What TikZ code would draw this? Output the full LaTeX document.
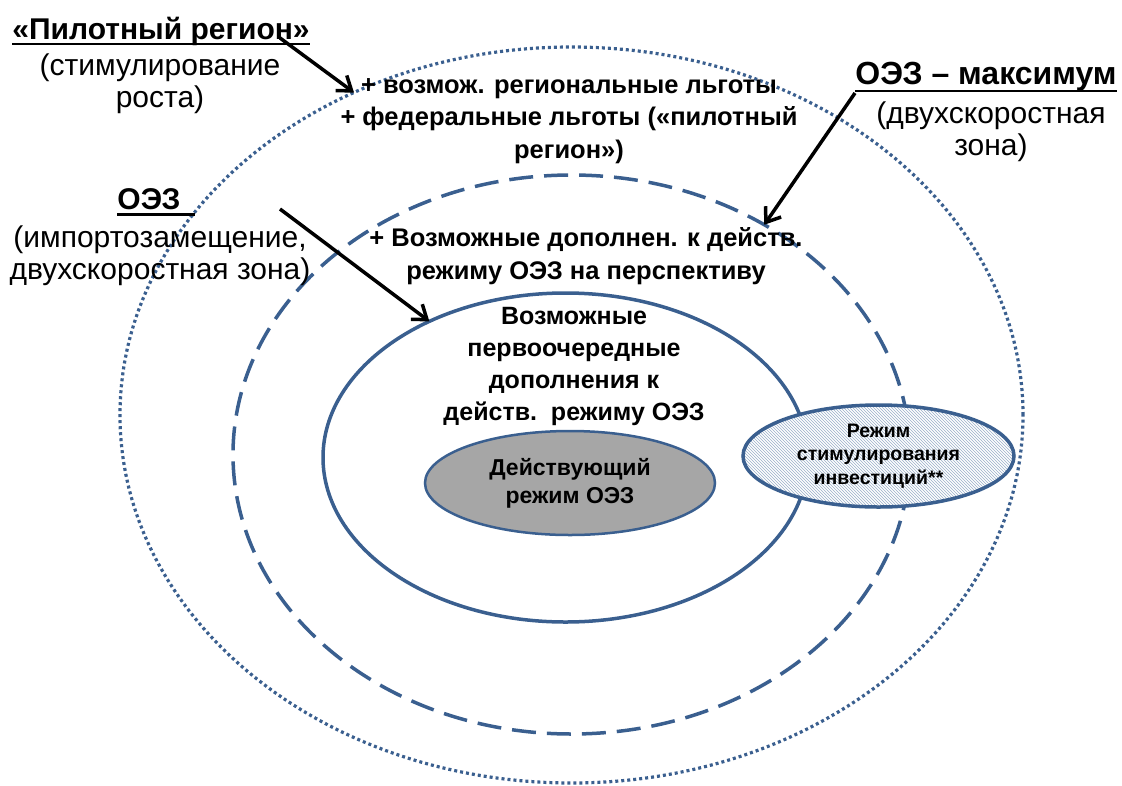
\documentclass[tikz,border=0pt]{standalone}
\usepackage{fontspec}
\setmainfont{Liberation Sans}
\usetikzlibrary{shapes.geometric, arrows.meta, patterns}
\definecolor{ZoneBlue}{HTML}{3A5F8F}
\definecolor{HatchBlue}{HTML}{9AAFCA}
\definecolor{CoreGray}{HTML}{A6A6A6}

\begin{document}
\begin{tikzpicture}[
    x=1pt, y=-1pt,
    >={Straight Barb[length=13pt, width=19pt]},
    zone/.style={
        ellipse,
        draw=ZoneBlue,
        inner sep=0pt,
        outer sep=0pt
    },
    title/.style={
        font=\fontsize{30}{32}\selectfont\bfseries,
        inner sep=0pt
    },
    underbar/.style={
        draw=black,
        line width=2.5pt
    },
    note/.style={
        font=\fontsize{30}{32}\selectfont,
        align=center,
        inner sep=0pt
    },
    zonetext/.style={
        font=\fontsize{25.5}{32.5}\selectfont\bfseries,
        align=center,
        inner sep=0pt
    },
    pointer/.style={
        draw=black,
        line width=3.5pt,
        ->
    }
]

\useasboundingbox (0,0) rectangle (1122,785);

% Zones
\node[zone, dash pattern=on 3pt off 3pt, line width=3.2pt,
      minimum width=903pt, minimum height=736pt] (outer) at (571.5,415) {};
\node[zone, dash pattern=on 24pt off 11pt, line width=3.5pt,
      minimum width=677pt, minimum height=559pt] (middle) at (571.5,454.5) {};
\node[zone, line width=3.5pt,
      minimum width=485pt, minimum height=329pt] (inner) at (565.5,457.5) {};

% Current regime and investment regime
\node[zone, line width=2.5pt, fill=CoreGray,
      minimum width=290pt, minimum height=104pt,
      font=\fontsize{23}{28}\selectfont\bfseries, align=center]
      (core) at (570,483) {Действующий\\режим ОЭЗ};
\node[zone, line width=3.5pt, preaction={fill=white},
      pattern=north west lines, pattern color=HatchBlue,
      minimum width=271pt, minimum height=102pt,
      font=\fontsize{19.5}{23.5}\selectfont\bfseries, align=center]
      (invest) at (878.5,456) {Режим\\стимулирования\\инвестиций**};

% Zone texts
\node[zonetext] (outerTxt) at (569,121)
    {+ возмож. региональные льготы\\+ федеральные льготы («пилотный\\регион»)};
\node[zonetext] (middleTxt) at (586,256)
    {+ Возможные дополнен. к действ.\\режиму ОЭЗ на перспективу};
\node[zonetext, font=\fontsize{25}{32}\selectfont\bfseries] (innerTxt) at (574,366)
    {Возможные\\первоочередные\\дополнения к\\действ.~~режиму ОЭЗ};

% Side labels
\node[title] (pilotT) at (161,31) {«Пилотный регион»};
\draw[underbar] ([yshift=-5pt]pilotT.base west) -- ([yshift=-5pt]pilotT.base east);
\node[note] (pilotS) at (160,84) {(стимулирование\\роста)};

\node[title] (oezT) at (149,199) {ОЭЗ};
\draw[underbar] ([yshift=-5pt]oezT.base west) -- ([xshift=14pt, yshift=-5pt]oezT.base east);
\node[note] (oezS) at (160,256) {(импортозамещение,\\двухскоростная зона)};

\node[title, font=\fontsize{32}{32}\selectfont\bfseries] (maxT) at (986,77) {ОЭЗ – максимум};
\draw[underbar] ([yshift=-6pt]maxT.base west) -- ([yshift=-6pt]maxT.base east);
\node[note] (maxS) at (991,131.5) {(двухскоростная\\зона)};

% Pointers
\coordinate (pilotFrom) at (280,38);
\coordinate (oezFrom) at (280,209);
\coordinate (maxFrom) at (855,93);

\draw[pointer] (pilotFrom) -- (outer.124);
\draw[pointer] (oezFrom) -- (inner.135.4);
\draw[pointer] (maxFrom) -- (middle.50.5);

\end{tikzpicture}
\end{document}
